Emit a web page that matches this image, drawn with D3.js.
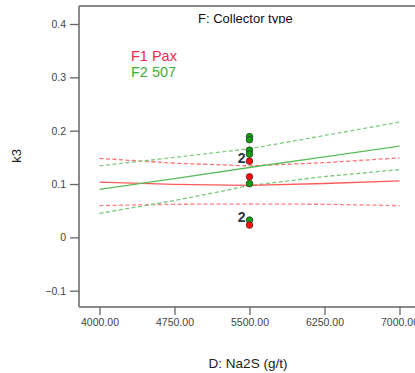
<!DOCTYPE html>
<html><head><meta charset="utf-8">
<script src="https://cdn.jsdelivr.net/npm/d3@7"></script>
<style>body{margin:0;background:#fff}svg{display:block}text{font-family:"Liberation Sans",Arial,sans-serif}</style>
</head><body><svg id="c" width="415" height="373"></svg>
<script>
const xTicks = [4000, 4750, 5500, 6250, 7000];
const yTicks = [-0.1, 0, 0.1, 0.2, 0.3, 0.4];
const xGrid = [4000, 4750, 5500, 6250, 7000];
// F1 Pax (red)
const f1Fit   = [0.1034, 0.0995, 0.0974, 0.101, 0.1058];
const f1Upper = [0.148, 0.139, 0.134, 0.140, 0.149];
const f1Lower = [0.0595, 0.062, 0.0625, 0.062, 0.0595];
// F2 507 (green)
const f2Fit   = [0.090, 0.110, 0.131, 0.151, 0.171];
const f2Upper = [0.134, 0.150, 0.166, 0.191, 0.216];
const f2Lower = [0.045, 0.069, 0.097, 0.114, 0.127];
// design points at D = 5500
const f1Points = [0.1429, 0.1135, 0.0230];
const f2Points = [0.1888, 0.1831, 0.1635, 0.156, 0.1007, 0.0324];
const repValues = [0.1429, 0.0324];
const repText = ["2", "2"];

const svg = d3.select("#c");
const x = d3.scaleLinear().domain([3795, 7205]).range([79, 420]);
const y = d3.scaleLinear().domain([-0.1, 0.4]).range([290.7, 24]);
const plotTop = 6, plotBottom = 307, plotLeft = 79;

// frame
const frame = svg.append("g").attr("stroke", "#8a8a8a").attr("stroke-width", 2).attr("fill", "none");
frame.append("line").attr("x1", plotLeft).attr("x2", 420).attr("y1", plotTop).attr("y2", plotTop);
frame.append("line").attr("x1", plotLeft).attr("x2", 420).attr("y1", plotBottom).attr("y2", plotBottom);
frame.append("line").attr("x1", plotLeft).attr("x2", plotLeft).attr("y1", plotTop).attr("y2", plotBottom);

// axes
const xAxis = d3.axisBottom(x).tickValues(xTicks).tickFormat(d3.format(".2f")).tickSizeOuter(0).tickSize(8).tickPadding(4);
const gx = svg.append("g").attr("transform", `translate(0,${plotBottom})`).call(xAxis);
gx.select(".domain").remove();
gx.selectAll("line").attr("stroke", "#666").attr("stroke-width", 1.3);
gx.selectAll("text").attr("font-size", 10.5).attr("fill", "#444").attr("font-family", "Liberation Sans, Arial, sans-serif");

const yAxis = d3.axisLeft(y).tickValues(yTicks).tickFormat(d => d === 0 ? "0" : d3.format(".1f")(d)).tickSizeOuter(0).tickSize(9).tickPadding(4);
const gy = svg.append("g").attr("transform", `translate(${plotLeft},0)`).call(yAxis);
gy.select(".domain").remove();
gy.selectAll("line").attr("stroke", "#666").attr("stroke-width", 1.3);
gy.selectAll("text").attr("font-size", 10.5).attr("fill", "#444").attr("font-family", "Liberation Sans, Arial, sans-serif");

// lines
const line = d3.line().x((d, i) => x(xGrid[i])).y(d => y(d));
const series = [
  {d: f1Lower, c: "#ff8080", dash: "4,2.5"},
  {d: f1Upper, c: "#ff7070", dash: "4,2.5"},
  {d: f2Lower, c: "#78c878", dash: "4,2.5"},
  {d: f2Upper, c: "#80cc80", dash: "4,2.5"},
  {d: f1Fit, c: "#ff5a5a", dash: null},
  {d: f2Fit, c: "#5cbc5c", dash: null}
];
series.forEach(s => {
  svg.append("path").attr("d", line(s.d)).attr("fill", "none").attr("stroke", s.c)
    .attr("stroke-width", 1.3).attr("stroke-dasharray", s.dash);
});

// points
const px = x(5500);
svg.selectAll(".g2").data(f2Points).enter().append("circle")
  .attr("cx", px).attr("cy", d => y(d)).attr("r", 3.3)
  .attr("fill", "#10a010").attr("stroke", "#2a3a2a").attr("stroke-width", 0.8);
svg.selectAll(".r1").data(f1Points).enter().append("circle")
  .attr("cx", px).attr("cy", d => y(d)).attr("r", 3.3)
  .attr("fill", "#ff1010").attr("stroke", "#5a2020").attr("stroke-width", 0.8);
svg.selectAll(".lab").data(repValues).enter().append("text")
  .attr("x", px - 4).attr("y", d => y(d) + 2).attr("text-anchor", "end")
  .attr("font-size", 14).attr("font-weight", "bold").attr("fill", "#2e3440").text((d, i) => repText[i]);

// title with clipped descenders
svg.append("clipPath").attr("id", "tc").append("rect").attr("x", 150).attr("y", 7).attr("width", 200).attr("height", 16.5);
svg.append("text").attr("x", 198).attr("y", 23).attr("font-size", 13).attr("fill", "#111")
  .attr("clip-path", "url(#tc)").text("F: Collector type");

// legend
svg.append("text").attr("x", 131).attr("y", 61).attr("font-size", 14.5).attr("fill", "#f2284e").text("F1 Pax");
svg.append("text").attr("x", 131).attr("y", 76.5).attr("font-size", 14.5).attr("fill", "#3cb03c").text("F2 507");

// axis titles
svg.append("text").attr("x", 248).attr("y", 368).attr("text-anchor", "middle").attr("font-size", 13.5).attr("fill", "#222").text("D: Na2S (g/t)");
svg.append("text").attr("transform", "translate(20.5,156) rotate(-90)").attr("text-anchor", "middle").attr("font-size", 13).attr("fill", "#222").text("k3");
</script></body></html>
